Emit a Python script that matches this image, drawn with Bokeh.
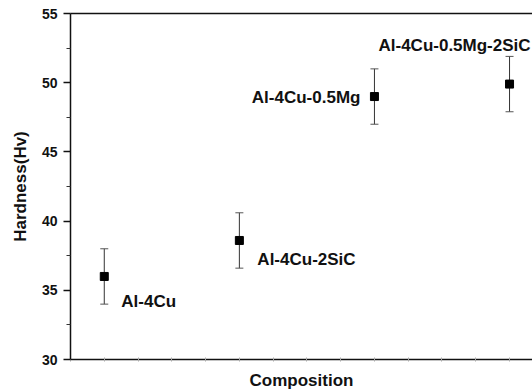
from bokeh.plotting import figure
from bokeh.models import (ColumnDataSource, Whisker, TeeHead, Label, LinearAxis,
                          FixedTicker, Range1d)
from bokeh.embed import file_html
from bokeh.resources import INLINE

# ---- data ----
categories = ["Al-4Cu", "Al-4Cu-2SiC", "Al-4Cu-0.5Mg", "Al-4Cu-0.5Mg-2SiC"]
positions = [1, 2, 3, 4]
hardness = [36.0, 38.6, 49.0, 49.9]
errors = [2.0, 2.0, 2.0, 2.0]
y_ticks = [30, 35, 40, 45, 50, 55]
y_minor = [32.5, 37.5, 42.5, 47.5, 52.5]
x_minor = [0.75, 1.0, 1.25, 1.5, 1.75, 2.0, 2.25, 2.5, 2.75, 3.0, 3.25, 3.5,
           3.75, 4.0]

# label placement (style only)
label_dx = [17, 18, -14, -55]
label_dy = [-25, -19, -1, 39]
label_align = ["left", "left", "right", "center"]

FONT = "Liberation Sans"
INK = "#111111"

src = ColumnDataSource(dict(
    x=positions, y=hardness,
    upper=[h + e for h, e in zip(hardness, errors)],
    lower=[h - e for h, e in zip(hardness, errors)],
))

p = figure(width=532, height=392, output_backend="svg", toolbar_location=None,
           x_range=Range1d(0.75, 4.17), y_range=Range1d(30, 55),
           min_border_left=70, min_border_right=0, min_border_top=13,
           min_border_bottom=31)
p.outline_line_color = None
p.xgrid.visible = False
p.ygrid.visible = False
p.background_fill_color = "white"

# y axis
ya = p.yaxis[0]
ya.ticker = FixedTicker(ticks=y_ticks, minor_ticks=y_minor)
ya.major_tick_out = 7
ya.major_tick_in = 0
ya.minor_tick_out = 4
ya.minor_tick_in = 0
ya.axis_line_width = 1.5
ya.axis_line_color = INK
ya.major_tick_line_color = INK
ya.major_tick_line_width = 1.5
ya.minor_tick_line_color = "#333333"
ya.major_label_text_font = FONT
ya.major_label_text_font_style = "bold"
ya.major_label_text_font_size = "14px"
ya.major_label_text_color = INK
ya.major_label_standoff = 6
ya.axis_label = "Hardness(Hv)"
ya.axis_label_text_font = FONT
ya.axis_label_text_font_style = "bold"
ya.axis_label_text_font_size = "17px"
ya.axis_label_text_color = INK
ya.axis_label_standoff = 9

# x axis (only small gray ticks, no labels)
xa = p.xaxis[0]
xa.ticker = FixedTicker(ticks=[], minor_ticks=x_minor)
xa.minor_tick_in = 2
xa.minor_tick_out = 2
xa.minor_tick_line_color = "#aaaaaa"
xa.major_tick_line_color = None
xa.axis_line_width = 1.5
xa.axis_line_color = INK
xa.axis_label = "Composition"
xa.axis_label_text_font = FONT
xa.axis_label_text_font_style = "bold"
xa.axis_label_text_font_size = "17px"
xa.axis_label_text_color = INK
xa.axis_label_standoff = 9

# top border line
top = LinearAxis(ticker=FixedTicker(ticks=[]),
                 major_tick_line_color=None, minor_tick_line_color=None,
                 axis_line_width=1.5, axis_line_color=INK)
p.add_layout(top, "above")

# error bars
w = Whisker(source=src, base="x", upper="upper", lower="lower",
            line_color="#333333", line_width=1,
            upper_head=TeeHead(size=8, line_color="#555555", line_width=1),
            lower_head=TeeHead(size=8, line_color="#555555", line_width=1))
p.add_layout(w)

p.scatter("x", "y", source=src, marker="square", size=8, color="black")

# labels
for i, name in enumerate(categories):
    p.add_layout(Label(x=positions[i], y=hardness[i], text=name,
                       x_offset=label_dx[i], y_offset=label_dy[i],
                       text_align=label_align[i], text_baseline="middle",
                       text_font=FONT, text_font_style="bold",
                       text_font_size="17px", text_color=INK))

open("out.html", "w").write(file_html(p, INLINE))
